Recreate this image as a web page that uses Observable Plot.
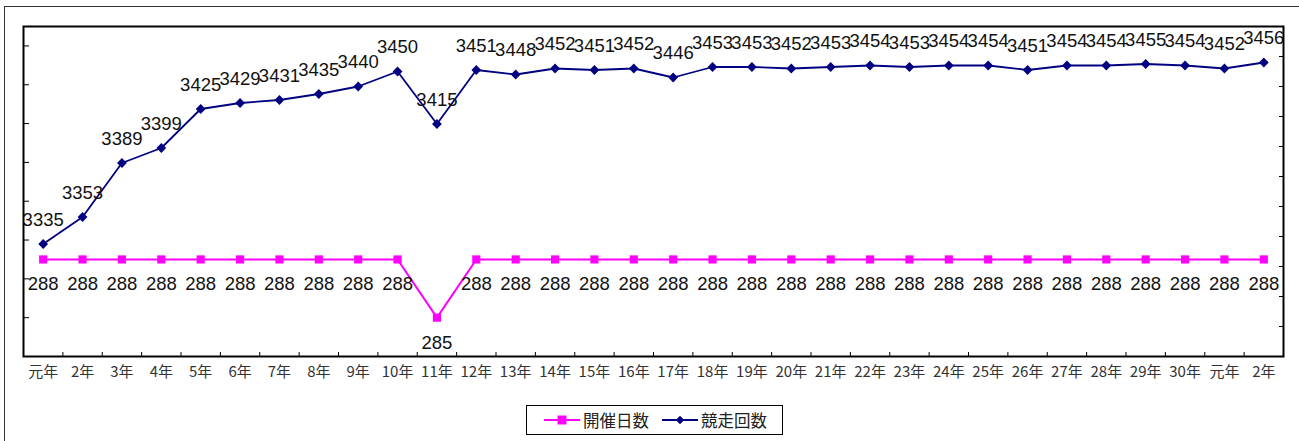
<!DOCTYPE html>
<html>
<head>
<meta charset="utf-8">
<script src="https://cdn.jsdelivr.net/npm/d3@7"></script>
<script src="https://cdn.jsdelivr.net/npm/@observablehq/plot@0.6"></script>
<style>
  html, body { margin: 0; padding: 0; background: #fff; overflow: hidden; }
  #wrap { position: relative; width: 1299px; height: 441px; }
  #outer { position: absolute; left: 4px; top: 6px; width: 1400px; height: 500px;
           border: 1.5px solid #333; box-sizing: border-box; }
  #chart { position: absolute; left: 0; top: 0; }
  #legend { position: absolute; left: 526px; top: 405px; width: 257px; height: 30px;
            border: 1px solid #000; box-sizing: border-box; background: #fff;
            display: flex; align-items: center; font-family: "Noto Sans CJK JP", sans-serif;
            font-size: 16.5px; color: #222; }
  #legend .item { display: flex; align-items: center; }
  #legend svg { display: block; }
</style>
</head>
<body>
<div id="wrap">
  <div id="outer"></div>
  <div id="chart"></div>
  <div id="legend"></div>
</div>
<script>
// 年度ラベル（平成元年〜令和2年）
const years = ["元年","2年","3年","4年","5年","6年","7年","8年","9年","10年",
  "11年","12年","13年","14年","15年","16年","17年","18年","19年","20年",
  "21年","22年","23年","24年","25年","26年","27年","28年","29年","30年","元年","2年"];

// 開催日数（左軸）
const kaisaiDays = [288,288,288,288,288,288,288,288,288,288,
  285,288,288,288,288,288,288,288,288,288,
  288,288,288,288,288,288,288,288,288,288,288,288];

// 競走回数（右軸）
const races = [3335,3353,3389,3399,3425,3429,3431,3435,3440,3450,
  3415,3451,3448,3452,3451,3452,3446,3453,3453,3452,
  3453,3454,3453,3454,3454,3451,3454,3454,3455,3454,3452,3456];

// 軸の範囲
const leftMin = 283, leftMax = 300, leftStep = 2;
const rightMin = 3260, rightMax = 3480, rightStep = 20;

// 右軸の値を左軸の座標系へ写す
const toLeft = v => leftMin + (v - rightMin) * (leftMax - leftMin) / (rightMax - rightMin);

const magenta = "#ff00ff";
const navy = "#000080";

const dayRows = kaisaiDays.map((v, i) => ({i, v}));
const raceRows = races.map((v, i) => ({i, v, y: toLeft(v)}));

const leftTicks = d3.range(leftMin, leftMax, leftStep);
const rightTicks = d3.range(rightMin + rightStep, rightMax, rightStep).map(toLeft);
const boundaryTicks = d3.range(0, years.length - 1).map(i => i + 0.5);
const labelTicks = d3.range(years.length);

const numFont = "Liberation Sans, Arial, sans-serif";

const chart = Plot.plot({
  width: 1299,
  height: 441,
  marginLeft: 23,
  marginRight: 16,
  marginTop: 26,
  marginBottom: 85,
  style: {background: "transparent", overflow: "visible"},
  x: {domain: [-0.5, years.length - 0.5]},
  y: {domain: [leftMin, leftMax]},
  marks: [
    // 目盛り（内向き）
    Plot.axisY({ticks: leftTicks, anchor: "left", tickSize: -6, tickFormat: () => "", label: null, stroke: "#000"}),
    Plot.axisY({ticks: rightTicks, anchor: "right", tickSize: -5, tickFormat: () => "", label: null, stroke: "#000"}),
    Plot.axisX({ticks: boundaryTicks, anchor: "bottom", tickSize: -4, tickFormat: () => "", label: null, stroke: "#000"}),
    Plot.axisX({ticks: labelTicks, anchor: "bottom", tickSize: 0, tickPadding: 10,
      tickFormat: i => years[i], label: null, fontSize: 15, fill: "#333",
      fontFamily: "Noto Sans CJK JP, sans-serif"}),
    // 開催日数
    Plot.line(dayRows, {x: "i", y: "v", stroke: magenta, strokeWidth: 2}),
    Plot.dot(dayRows, {x: "i", y: "v", symbol: "square", r: 4.6, fill: magenta, stroke: "none"}),
    Plot.text(dayRows, {x: "i", y: "v", text: d => String(d.v), dy: 25, fontSize: 18.5,
      fontFamily: numFont, fill: "#111"}),
    // 競走回数
    Plot.line(raceRows, {x: "i", y: "y", stroke: navy, strokeWidth: 1.8}),
    Plot.dot(raceRows, {x: "i", y: "y", symbol: "diamond2", r: 4.4, fill: navy, stroke: "none"}),
    Plot.text(raceRows, {x: "i", y: "y", text: d => String(d.v), dy: -24, fontSize: 18.5,
      fontFamily: numFont, fill: "#111"}),
    Plot.frame({stroke: "#000", strokeWidth: 2})
  ]
});
document.getElementById("chart").append(chart);

// 凡例
const legend = d3.select("#legend");
function legendItem(color, symbol, label, padLeft) {
  const item = legend.append("div").attr("class", "item").style("margin-left", padLeft + "px");
  const svg = item.append("svg").attr("width", 38).attr("height", 14);
  svg.append("line").attr("x1", 1).attr("x2", 37).attr("y1", 7).attr("y2", 7)
    .attr("stroke", color).attr("stroke-width", 2);
  svg.append("path").attr("transform", "translate(19,7)")
    .attr("d", d3.symbol(symbol, symbol === d3.symbolSquare ? 80 : 45)())
    .attr("fill", color);
  item.append("span").text(label).style("margin-left", "2px");
}
legendItem(magenta, d3.symbolSquare, "開催日数", 16);
legendItem(navy, d3.symbolDiamond2, "競走回数", 12);
</script>
</body>
</html>
